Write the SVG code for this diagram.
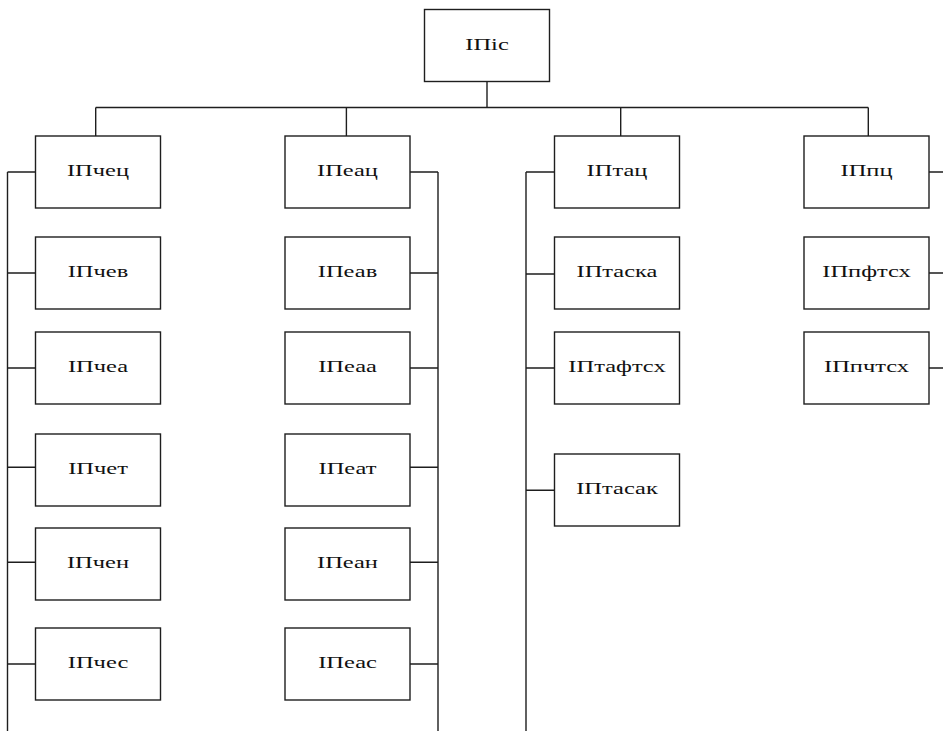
<svg xmlns="http://www.w3.org/2000/svg" width="943" height="731" viewBox="0 0 943 731">
<style>
.box{fill:#fff;stroke:#1e1e1e;stroke-width:1.4}
.lbl{font-family:"Liberation Serif","Times New Roman",serif;font-size:17.5px;fill:#111;text-anchor:middle}
.con{fill:none;stroke:#1e1e1e;stroke-width:1.4}
</style>
<rect width="943" height="731" fill="#fff"/>
<g id="connectors" class="con">
<path d="M487,81.5V107.5M95.7,107.5H868.3M95.7,107.5V136M346.4,107.5V136M620.7,107.5V136M868.3,107.5V136"/>
<path d="M7.5,172V731M7.5,172H35.5M7.5,273H35.5M7.5,368H35.5M7.5,467.3H35.5M7.5,562.3H35.5M7.5,664H35.5"/>
<path d="M438,172V731M410,172H438M410,273H438M410,368H438M410,467.3H438M410,562.3H438M410,664H438"/>
<path d="M526,172V731M526,172H554.5M526,274H554.5M526,368H554.5M526,490.3H554.5"/>
<path d="M929,172H943M929,273H943M929,368H943"/>
</g>
<g id="n-root"><rect class="box" x="424.5" y="9.5" width="125" height="72"/><text class="lbl" transform="translate(487,49.5) scale(1.4,1)">ІПіс</text></g>
<g id="n-chets"><rect class="box" x="35.5" y="136" width="125" height="72"/><text class="lbl" transform="translate(98,176) scale(1.4,1)">ІПчец</text></g>
<g id="n-chev"><rect class="box" x="35.5" y="237" width="125" height="72"/><text class="lbl" transform="translate(98,277) scale(1.4,1)">ІПчев</text></g>
<g id="n-chea"><rect class="box" x="35.5" y="332" width="125" height="72"/><text class="lbl" transform="translate(98,372) scale(1.4,1)">ІПчеа</text></g>
<g id="n-chet"><rect class="box" x="35.5" y="434" width="125" height="72"/><text class="lbl" transform="translate(98,474) scale(1.4,1)">ІПчет</text></g>
<g id="n-chen"><rect class="box" x="35.5" y="528" width="125" height="72"/><text class="lbl" transform="translate(98,568) scale(1.4,1)">ІПчен</text></g>
<g id="n-ches"><rect class="box" x="35.5" y="628" width="125" height="72"/><text class="lbl" transform="translate(98,668) scale(1.4,1)">ІПчес</text></g>
<g id="n-eats"><rect class="box" x="285" y="136" width="125" height="72"/><text class="lbl" transform="translate(347.5,176) scale(1.4,1)">ІПеац</text></g>
<g id="n-eav"><rect class="box" x="285" y="237" width="125" height="72"/><text class="lbl" transform="translate(347.5,277) scale(1.4,1)">ІПеав</text></g>
<g id="n-eaa"><rect class="box" x="285" y="332" width="125" height="72"/><text class="lbl" transform="translate(347.5,372) scale(1.4,1)">ІПеаа</text></g>
<g id="n-eat"><rect class="box" x="285" y="434" width="125" height="72"/><text class="lbl" transform="translate(347.5,474) scale(1.4,1)">ІПеат</text></g>
<g id="n-ean"><rect class="box" x="285" y="528" width="125" height="72"/><text class="lbl" transform="translate(347.5,568) scale(1.4,1)">ІПеан</text></g>
<g id="n-eas"><rect class="box" x="285" y="628" width="125" height="72"/><text class="lbl" transform="translate(347.5,668) scale(1.4,1)">ІПеас</text></g>
<g id="n-tats"><rect class="box" x="554.5" y="136" width="125" height="72"/><text class="lbl" transform="translate(617,176) scale(1.4,1)">ІПтац</text></g>
<g id="n-taska"><rect class="box" x="554.5" y="237" width="125" height="72"/><text class="lbl" transform="translate(617,277) scale(1.4,1)">ІПтаска</text></g>
<g id="n-taftskh"><rect class="box" x="554.5" y="332" width="125" height="72"/><text class="lbl" transform="translate(617,372) scale(1.4,1)">ІПтафтсх</text></g>
<g id="n-tasak"><rect class="box" x="554.5" y="454" width="125" height="72"/><text class="lbl" transform="translate(617,494) scale(1.4,1)">ІПтасак</text></g>
<g id="n-pts"><rect class="box" x="804" y="136" width="125" height="72"/><text class="lbl" transform="translate(866.5,176) scale(1.4,1)">ІПпц</text></g>
<g id="n-pftskh"><rect class="box" x="804" y="237" width="125" height="72"/><text class="lbl" transform="translate(866.5,277) scale(1.4,1)">ІПпфтсх</text></g>
<g id="n-pchtskh"><rect class="box" x="804" y="332" width="125" height="72"/><text class="lbl" transform="translate(866.5,372) scale(1.4,1)">ІПпчтсх</text></g>
</svg>
